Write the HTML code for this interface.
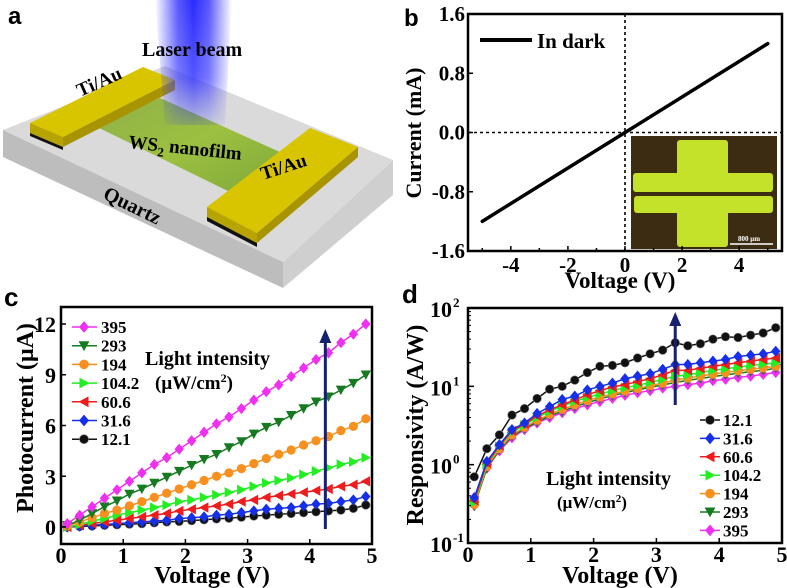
<!DOCTYPE html>
<html><head><meta charset="utf-8"><style>
html,body{margin:0;padding:0;background:#fff}
svg{display:block}
text{font-family:"Liberation Serif",serif;font-weight:bold;fill:#000}
.pl{font-family:"Liberation Sans",sans-serif;font-weight:bold}
</style></head><body>
<svg id="fig" width="787" height="588" viewBox="0 0 787 588" xmlns="http://www.w3.org/2000/svg">
<defs>
<linearGradient id="beam" x1="0" y1="0" x2="1" y2="0">
<stop offset="0" stop-color="#4040ff" stop-opacity="0"/><stop offset="0.3" stop-color="#3a3aff" stop-opacity="0.85"/><stop offset="0.5" stop-color="#2a2aff" stop-opacity="1"/><stop offset="0.7" stop-color="#3a3aff" stop-opacity="0.85"/><stop offset="1" stop-color="#4040ff" stop-opacity="0"/>
</linearGradient>
<linearGradient id="beamv" x1="0" y1="0" x2="0" y2="1"><stop offset="0" stop-color="#fff" stop-opacity="1"/><stop offset="0.6" stop-color="#fff" stop-opacity="0.8"/><stop offset="1" stop-color="#fff" stop-opacity="0.1"/></linearGradient>
<mask id="bm"><rect x="140" y="0" width="110" height="130" fill="url(#beamv)"/></mask>
<linearGradient id="film" x1="0" y1="0" x2="1" y2="1"><stop offset="0" stop-color="#8fb04a"/><stop offset="0.5" stop-color="#9cc040"/><stop offset="1" stop-color="#7fa83a"/></linearGradient>
</defs>

<!-- Panel a -->
<g>
<text class="pl" x="8" y="24" font-size="24">a</text>
<polygon points="3,130 283,262 283,288 3,157" fill="#bdbdbd"/>
<polygon points="283,262 393,160 393,195 283,288" fill="#cfcfcf"/>
<polygon points="3,130 165,66 393,160 283,262" fill="#dadada"/>
<polygon points="97,127 160,98 282,153 232,193" fill="url(#film)"/>
<polygon points="30,123 143,67 175,80 63,137" fill="#d9c400"/>
<polygon points="30,123 63,137 63,147 30,133" fill="#b8a400"/>
<polygon points="30,133 63,147 63,150 30,136" fill="#111"/>
<polygon points="63,137 175,80 175,90 63,147" fill="#a89400"/>
<polygon points="207,207 310,128 358,147 257,233" fill="#d9c400"/>
<polygon points="207,207 257,233 257,243 207,217" fill="#b8a400"/>
<polygon points="207,217 257,243 257,247 207,221" fill="#111"/>
<polygon points="257,233 358,147 358,157 257,243" fill="#a89400"/>
<polygon points="155,0 232,0 225,125 165,125" fill="url(#beam)" mask="url(#bm)"/>
<text x="142" y="56" font-size="20">Laser beam</text>
<text x="80" y="97" font-size="19" transform="rotate(-24 80 97)">Ti/Au</text>
<text x="128" y="148" font-size="19" transform="rotate(6 128 148)">WS<tspan font-size="13" dy="5">2</tspan><tspan dy="-5"> nanofilm</tspan></text>
<text x="263" y="180" font-size="19" transform="rotate(-18 263 180)">Ti/Au</text>
<text x="102" y="198" font-size="20" transform="rotate(26 102 198)">Quartz</text>
</g>

<!-- Panel b -->
<g id="pb">
<text class="pl" x="404" y="26" font-size="24">b</text>
<g>
<rect x="631" y="136" width="146" height="113" fill="#3b2c12"/>
<path d="M680,140 h45 a3,3 0 0 1 3,3 v30 h42 a3,3 0 0 1 3,3 v13 a3,3 0 0 1 -3,3 h-134 a3,3 0 0 1 -3,-3 v-13 a3,3 0 0 1 3,-3 h41 v-30 a3,3 0 0 1 3,-3z" fill="#c4e22a"/>
<path d="M637,196 h133 a3,3 0 0 1 3,3 v11 a3,3 0 0 1 -3,3 h-42 v31 a3,3 0 0 1 -3,3 h-45 a3,3 0 0 1 -3,-3 v-31 h-40 a3,3 0 0 1 -3,-3 v-11 a3,3 0 0 1 3,-3z" fill="#c4e22a"/>
<line x1="730" y1="244" x2="773" y2="244" stroke="#fff" stroke-width="1.5"/>
<text x="738" y="241" font-size="7" style="fill:#fff">800 μm</text>
</g>
</g>

<!-- Panel c -->
<g id="pc">
<text class="pl" x="4" y="306" font-size="26">c</text>
</g>
<!-- Panel d -->
<g id="pd">
<text class="pl" x="402" y="303" font-size="26">d</text>
</g>
</svg>
<script>
// ---- data ----
const bVolt = [-5, 5];
const bCurr = [-1.2, 1.2];
const bXTicks = [-4, -2, 0, 2, 4];
const bYTicks = ["-1.6", "-0.8", "0.0", "0.8", "1.6"];

const cdX = [0.1,0.3,0.5,0.7,0.9,1.1,1.3,1.5,1.7,1.9,2.1,2.3,2.5,2.7,2.9,3.1,3.3,3.5,3.7,3.9,4.1,4.3,4.5,4.7,4.9];
const cLabels = ["395","293","194","104.2","60.6","31.6","12.1"];
const c395 = [0.2,0.7,1.2,1.7,2.2,2.7,3.2,3.7,4.1,4.6,5.1,5.6,6.1,6.5,7.0,7.5,8.0,8.4,8.9,9.4,9.9,10.3,10.9,11.4,12.0];
const c293 = [0.1,0.4,0.8,1.2,1.55,1.95,2.25,2.6,2.95,3.3,3.65,4.0,4.3,4.7,5.05,5.5,5.9,6.2,6.6,7.0,7.4,7.7,8.1,8.5,9.0];
const c194 = [0.05,0.3,0.55,0.8,1.0,1.25,1.5,1.75,2.0,2.25,2.5,2.75,3.0,3.2,3.45,3.75,4.05,4.3,4.55,4.85,5.1,5.35,5.7,5.95,6.4];
const c104 = [0,0.15,0.35,0.5,0.7,0.85,1.0,1.15,1.3,1.5,1.6,1.75,1.9,2.05,2.2,2.4,2.6,2.75,2.9,3.1,3.3,3.5,3.7,3.85,4.1];
const c60 = [0,0.1,0.2,0.3,0.4,0.5,0.6,0.7,0.8,0.95,1.05,1.15,1.25,1.35,1.5,1.6,1.75,1.85,1.95,2.05,2.15,2.25,2.4,2.5,2.7];
const c31 = [0,0.05,0.1,0.15,0.2,0.25,0.3,0.35,0.4,0.5,0.55,0.6,0.7,0.75,0.85,0.95,1.05,1.1,1.15,1.25,1.35,1.4,1.5,1.6,1.8];
const c12 = [0,0.03,0.06,0.1,0.13,0.17,0.2,0.25,0.3,0.33,0.38,0.43,0.48,0.52,0.58,0.65,0.7,0.75,0.8,0.85,0.9,0.95,1.0,1.1,1.3];
const cXTicks = [0,1,2,3,4,5];
const cYTicks = [0,3,6,9,12];

const dLabels = ["12.1","31.6","60.6","104.2","194","293","395"];
const d12 = [0.7,1.6,2.4,4.3,5.2,7,9.2,10,12,15,18,18.5,20,23,26,29,36,33,35,40,43,42,45,48,56];
const d31 = [0.38,1.1,1.8,2.8,3.4,4.5,5.5,6.8,7.5,9,10,11,12.5,13.5,14.5,16.5,19,19,20,21,22,24,25,26,28];
const d60 = [0.35,1.05,1.75,2.7,3.3,4.2,5,5.8,6.7,7.8,8.8,9.8,10.5,11.5,12.5,14,16,16,17,18,19,20,21,22,23];
const d104 = [0.33,1.0,1.7,2.6,3.2,4.0,4.8,5.6,6.4,7.2,8.0,8.8,9.6,10.3,11.2,12.3,13.5,14,15,16,16.8,17.5,18.5,19.2,20];
const d194 = [0.31,0.95,1.6,2.4,3.0,3.7,4.4,5.1,5.8,6.6,7.3,8.0,8.7,9.4,10.2,11,12,12.8,13.5,14.3,15,15.8,16.5,17.2,18];
const d293 = [0.3,0.9,1.55,2.3,2.9,3.5,4.2,4.8,5.5,6.2,6.9,7.6,8.3,9,9.7,10.4,11.2,11.9,12.6,13.3,14,14.7,15.4,16,17];
const d395 = [0.3,0.9,1.5,2.2,2.8,3.4,4.0,4.6,5.2,5.8,6.4,7.0,7.7,8.3,8.8,9.5,10,10.5,11,11.8,12.3,13,13.5,14.2,15];
const dXTicks = [0,1,2,3,4,5];
const dYExp = [-1,0,1,2];

// ---- helpers ----
const NS = "http://www.w3.org/2000/svg";
function mk(parent, tag, attrs) {
  const e = document.createElementNS(NS, tag);
  for (const k in attrs) e.setAttribute(k, attrs[k]);
  parent.appendChild(e);
  return e;
}
function lin(d0, d1, p0, p1) { return v => p0 + (v - d0) * (p1 - p0) / (d1 - d0); }
function logs(d0, d1, p0, p1) { const f = lin(Math.log10(d0), Math.log10(d1), p0, p1); return v => f(Math.log10(v)); }

function marker(g, shape, x, y, color, r) {
  let el;
  if (shape === "circle") {
    el = mk(g, "circle", {cx: x, cy: y, r: r, fill: color, stroke: color === "#111" ? "#777" : color, "stroke-width": 0.6});
  } else if (shape === "diamond") {
    el = mk(g, "polygon", {points: `${x},${y-r*1.3} ${x+r*1.1},${y} ${x},${y+r*1.3} ${x-r*1.1},${y}`, fill: color});
  } else if (shape === "down") {
    el = mk(g, "polygon", {points: `${x-r*1.2},${y-r} ${x+r*1.2},${y-r} ${x},${y+r*1.2}`, fill: color});
  } else if (shape === "right") {
    el = mk(g, "polygon", {points: `${x-r},${y-r*1.2} ${x+r*1.2},${y} ${x-r},${y+r*1.2}`, fill: color});
  } else {
    el = mk(g, "polygon", {points: `${x+r},${y-r*1.2} ${x-r*1.2},${y} ${x+r},${y+r*1.2}`, fill: color});
  }
  
  
}

function frame(g, x0, y0, x1, y1) {
  const r = mk(g, "rect", {x: x0, y: y0, width: x1 - x0, height: y1 - y0, fill: "none", stroke: "#000", "stroke-width": 2.5});
  
  
}
function text(g, x, y, s, size, anchor, name) {
  const t = mk(g, "text", {x: x, y: y, "font-size": size, "text-anchor": anchor || "start"});
  t.textContent = s;
  
  
  return t;
}
function arrow(g, x, y0, y1, name) {
  const l = mk(g, "line", {x1: x, y1: y0, x2: x, y2: y1 + 12, stroke: "#15206e", "stroke-width": 3});
  
  
  const h = mk(g, "polygon", {points: `${x-6},${y1+14} ${x+6},${y1+14} ${x},${y1}`, fill: "#15206e"});
  
  
}

// ---- Panel b ----
(function () {
  const g = document.getElementById("pb");
  const X0 = 468, X1 = 782, Y0 = 14, Y1 = 251;
  const sx = lin(-5.5, 5.5, X0, X1), sy = lin(-1.6, 1.6, Y1, Y0);
  let z = mk(g, "line", {x1: sx(0), y1: Y0, x2: sx(0), y2: Y1, stroke: "#000", "stroke-width": 1.6, "stroke-dasharray": "3,3"});
  
  
  z = mk(g, "line", {x1: X0, y1: sy(0), x2: X1, y2: sy(0), stroke: "#000", "stroke-width": 1.6, "stroke-dasharray": "3,3"});
  
  
  const ln = mk(g, "line", {x1: sx(bVolt[0]), y1: sy(bCurr[0]), x2: sx(bVolt[1]), y2: sy(bCurr[1]), stroke: "#000", "stroke-width": 3.5, "stroke-linecap": "round"});
  
  
  frame(g, X0, Y0, X1, Y1);
  for (let v = -5; v <= 5; v++) {
    const t = mk(g, "line", {x1: sx(v), y1: Y1, x2: sx(v), y2: Y1 - (v % 2 === 0 ? 5 : 3), stroke: "#000", "stroke-width": 1.5});
    
    
  }
  bXTicks.forEach(v => text(g, sx(v), 272, String(v), 21, "middle", "x-tick-label"));
  bYTicks.forEach(s => {
    const v = parseFloat(s);
    text(g, 465, sy(v) + 7, s, 21, "end", "y-tick-label");
    const t = mk(g, "line", {x1: X0, y1: sy(v), x2: X0 + 5, y2: sy(v), stroke: "#000", "stroke-width": 1.5});
    
    
  });
  text(g, 620, 288, "Voltage (V)", 23, "middle", "x-axis-title");
  const yt = text(g, 0, 0, "Current (mA)", 22, "middle", "y-axis-title");
  yt.setAttribute("transform", "translate(421,133) rotate(-90)");
  const lg = mk(g, "line", {x1: 480, y1: 40, x2: 532, y2: 40, stroke: "#000", "stroke-width": 4});
  
  
  text(g, 537, 48, "In dark", 21, "start", "legend-label");
})();

// ---- Panel c ----
(function () {
  const g = document.getElementById("pc");
  const X0 = 61, X1 = 372, Y0 = 307, Y1 = 544;
  const sx = lin(0, 5, X0, X1), sy = lin(0, 12, 527, 324);
  const series = [c12, c31, c60, c104, c194, c293, c395];
  const colors = ["#111", "#1530e8", "#ee1c1c", "#22ee22", "#f7901e", "#157a20", "#f030f0"];
  const shapes = ["circle", "diamond", "left", "right", "circle", "down", "diamond"];
  series.forEach((s, i) => {
    const sg = mk(g, "g", {});
    
    
    const pts = [[0, 0]].concat(cdX.map((x, j) => [x, s[j]])).map(p => sx(p[0]) + "," + sy(p[1])).join(" ");
    mk(sg, "polyline", {points: pts, fill: "none", stroke: colors[i], "stroke-width": 1.5});
    cdX.forEach((x, j) => marker(sg, shapes[i], sx(x), sy(s[j]), colors[i], 4.3));
  });
  frame(g, X0, Y0, X1, Y1);
  cXTicks.forEach(v => {
    text(g, sx(v), 563, String(v), 22, "middle", "x-tick-label");
    const t = mk(g, "line", {x1: sx(v), y1: Y1, x2: sx(v), y2: Y1 - 5, stroke: "#000", "stroke-width": 1.5});
    
    
  });
  cYTicks.forEach(v => {
    text(g, 56, sy(v) + 8, String(v), 22, "end", "y-tick-label");
    const t = mk(g, "line", {x1: X0, y1: sy(v), x2: X0 + 5, y2: sy(v), stroke: "#000", "stroke-width": 1.5});
    
    
  });
  text(g, 212, 583, "Voltage (V)", 24, "middle", "x-axis-title");
  const yt = text(g, 0, 0, "Photocurrent (μA)", 24, "middle", "y-axis-title");
  yt.setAttribute("transform", "translate(33,418) rotate(-90)");
  arrow(g, sx(4.25), 529, 329, "intensity-arrow");
  const order = [6, 5, 4, 3, 2, 1, 0];
  order.forEach((si, k) => {
    const y = 327 + k * 18.7;
    const l = mk(g, "line", {x1: 72, y1: y, x2: 97, y2: y, stroke: colors[si], "stroke-width": 1.5});
    
    
    marker(g, shapes[si], 84, y, colors[si], 4.5);
    text(g, 101, y + 6, cLabels[k], 17, "start", "legend-label");
  });
  text(g, 145, 365, "Light intensity", 20, "start", "annotation-light-intensity");
  const u = text(g, 155, 389, "(μW/cm", 19, "start", "annotation-units");
  const sp = mk(u, "tspan", {"font-size": 12, dy: -7}); sp.textContent = "2";
  const sp2 = mk(u, "tspan", {dy: 7}); sp2.textContent = ")";
})();

// ---- Panel d ----
(function () {
  const g = document.getElementById("pd");
  const X0 = 468, X1 = 782, Y0 = 308, Y1 = 543;
  const sx = lin(0, 5, X0, X1), sy = logs(0.1, 100, Y1, Y0);
  const series = [d395, d293, d194, d104, d60, d31, d12];
  const colors = ["#f030f0", "#157a20", "#f7901e", "#22ee22", "#ee1c1c", "#1530e8", "#111"];
  const shapes = ["diamond", "down", "circle", "right", "left", "diamond", "circle"];
  const names = ["395", "293", "194", "104.2", "60.6", "31.6", "12.1"];
  series.forEach((s, i) => {
    const sg = mk(g, "g", {});
    
    
    const pts = cdX.map((x, j) => sx(x) + "," + sy(s[j])).join(" ");
    mk(sg, "polyline", {points: pts, fill: "none", stroke: colors[i], "stroke-width": 1.5});
    cdX.forEach((x, j) => marker(sg, shapes[i], sx(x), sy(s[j]), colors[i], 4.3));
  });
  frame(g, X0, Y0, X1, Y1);
  dXTicks.forEach(v => {
    text(g, sx(v), 562, String(v), 22, "middle", "x-tick-label");
    const t = mk(g, "line", {x1: sx(v), y1: Y1, x2: sx(v), y2: Y1 - 5, stroke: "#000", "stroke-width": 1.5});
    
    
  });
  dYExp.forEach(e => {
    const y = sy(Math.pow(10, e));
    text(g, 452, y + 9, "10", 22, "end", "y-tick-label");
    text(g, 453, y - 1, String(e), 13, "start", "y-tick-exponent");
    for (let m = 2; m <= 9 && e < 2; m++) {
      const yy = sy(m * Math.pow(10, e));
      const mt = mk(g, "line", {x1: X0, y1: yy, x2: X0 + 3, y2: yy, stroke: "#000", "stroke-width": 1});
      
      
    }
    const tk = mk(g, "line", {x1: X0, y1: y, x2: X0 + 6, y2: y, stroke: "#000", "stroke-width": 1.5});
    
    
  });
  text(g, 620, 583, "Voltage (V)", 24, "middle", "x-axis-title");
  const yt = text(g, 0, 0, "Responsivity (A/W)", 24, "middle", "y-axis-title");
  yt.setAttribute("transform", "translate(423,425) rotate(-90)");
  arrow(g, sx(3.3), 405, 312, "intensity-arrow");
  dLabels.forEach((lab, k) => {
    const si = 6 - k;
    const y = 420 + k * 18.4;
    const l = mk(g, "line", {x1: 700, y1: y, x2: 720, y2: y, stroke: colors[si], "stroke-width": 1.5});
    
    
    marker(g, shapes[si], 710, y, colors[si], 4.5);
    text(g, 723, y + 6, lab, 17, "start", "legend-label");
  });
  text(g, 546, 485, "Light intensity", 20, "start", "annotation-light-intensity");
  const u = text(g, 557, 508, "(μW/cm", 17, "start", "annotation-units");
  const sp = mk(u, "tspan", {"font-size": 11, dy: -6}); sp.textContent = "2";
  const sp2 = mk(u, "tspan", {dy: 6}); sp2.textContent = ")";
})();
</script>
</body></html>
